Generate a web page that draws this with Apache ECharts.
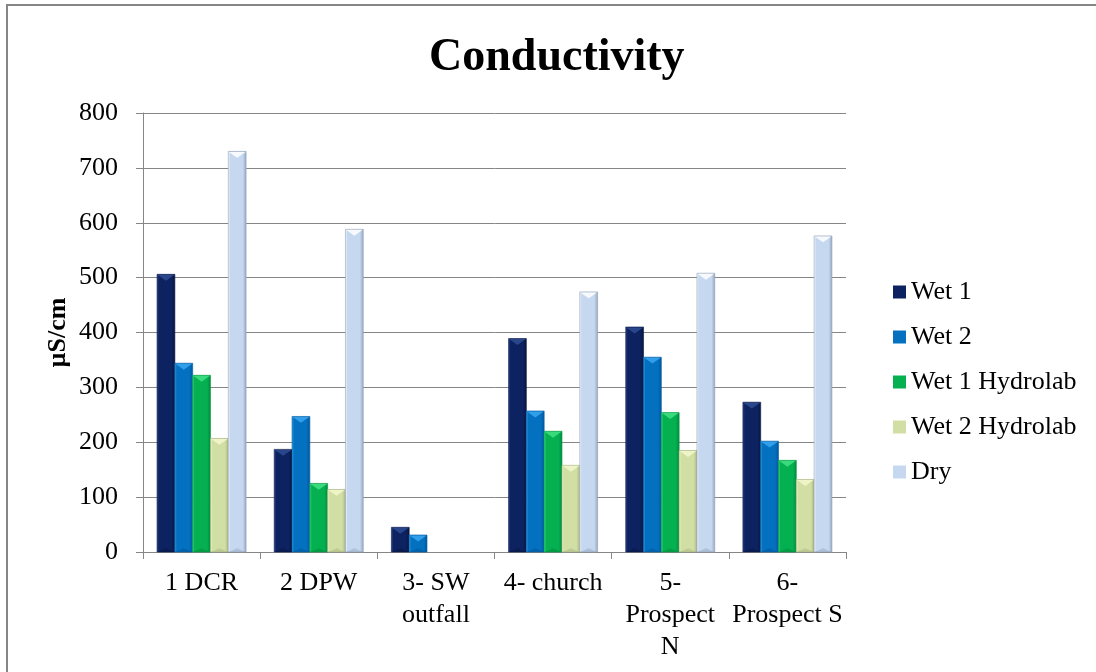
<!DOCTYPE html>
<html>
<head>
<meta charset="utf-8">
<script src="https://cdn.jsdelivr.net/npm/echarts@6/dist/echarts.min.js"></script>
<style>
  html, body { margin: 0; padding: 0; background: #fff; }
  #chart { width: 1096px; height: 672px; }
</style>
</head>
<body>
<div id="chart"></div>
<script>
// Site names along the x axis
const categories = ['1 DCR', '2 DPW', '3- SW\noutfall', '4- church', '5-\nProspect\nN', '6-\nProspect S'];
// Conductivity readings (µS/cm) per sampling event
const wet1 = [506, 187, 45, 389, 410, 273];
const wet2 = [344, 247, 31, 257, 355, 202];
const wet1Hydrolab = [322, 125, null, 220, 254, 167];
const wet2Hydrolab = [207, 114, null, 158, 185, 132];
const dry = [730, 588, null, 474, 508, 576];
const yTicks = { min: 0, max: 800, interval: 100 };

const seriesList = [
  { name: 'Wet 1', values: wet1, body: '#0d2260', light: '#2f4c92', dark: '#06153f', edge: '#0a1a4a' },
  { name: 'Wet 2', values: wet2, body: '#0370c0', light: '#3aa6f0', dark: '#02569a', edge: '#035ea4' },
  { name: 'Wet 1 Hydrolab', values: wet1Hydrolab, body: '#04b050', light: '#42e283', dark: '#018a3c', edge: '#03973f' },
  { name: 'Wet 2 Hydrolab', values: wet2Hydrolab, body: '#d2dfa4', light: '#f4f8cd', dark: '#a8b582', edge: '#a3ae80' },
  { name: 'Dry', values: dry, body: '#c5d8f0', light: '#ffffff', dark: '#95a7c0', edge: '#8e9db3' }
];

const N = seriesList.length;
const GROUP = 0.76; // share of each category band covered by its bars

function bevelBar(si, pal) {
  return function (params, api) {
    const v = api.value(1);
    if (v == null || isNaN(v)) return null;
    const cat = api.value(0);
    const base = api.coord([cat, 0]);
    const top = api.coord([cat, v]);
    const band = api.size([1, 0])[0];
    const bw = band * GROUP / N;
    const x0 = base[0] - band * GROUP / 2 + si * bw;
    const h = base[1] - top[1];
    const b = Math.min(bw * 0.36, h / 2);
    const grad = new echarts.graphic.LinearGradient(0, 0, 1, 0, [
      { offset: 0, color: pal.light },
      { offset: 0.12, color: pal.body },
      { offset: 0.8, color: pal.body },
      { offset: 1, color: pal.dark }
    ]);
    return {
      type: 'group',
      children: [
        { type: 'rect', shape: { x: x0, y: top[1], width: bw, height: h },
          style: { fill: grad, stroke: pal.edge, lineWidth: 0.6 } },
        { type: 'polygon', shape: { points: [[x0 + 0.5, top[1] + 0.5], [x0 + bw - 0.5, top[1] + 0.5], [x0 + bw / 2, top[1] + b]] },
          style: { fill: pal.light, opacity: 0.85 } },
        { type: 'polygon', shape: { points: [[x0 + 0.5, base[1]], [x0 + bw - 0.5, base[1]], [x0 + bw / 2, base[1] - b * 0.6]] },
          style: { fill: pal.dark, opacity: 0.5 } }
      ]
    };
  };
}

const serif = '"Liberation Serif", "Times New Roman", serif';
const gray = '#868686';

const chart = echarts.init(document.getElementById('chart'), null, { renderer: 'canvas' });
chart.setOption({
  backgroundColor: '#ffffff',
  animation: false,
  title: {
    text: 'Conductivity',
    left: 424,
    top: 30,
    textStyle: { fontFamily: serif, fontSize: 46, fontWeight: 'bold', color: '#000' }
  },
  graphic: [{
    type: 'rect',
    shape: { x: 7, y: 5, width: 1100, height: 700 },
    style: { fill: null, stroke: gray, lineWidth: 2 },
    silent: true
  }],
  legend: {
    orient: 'vertical',
    left: 888,
    top: 274,
    icon: 'rect',
    itemWidth: 13,
    itemHeight: 13,
    itemGap: 19,
    textStyle: { fontFamily: serif, fontSize: 26, color: '#000', lineHeight: 26 },
    data: seriesList.map(s => s.name)
  },
  grid: { left: 143, right: 250, top: 113, bottom: 120, containLabel: false },
  xAxis: {
    type: 'category',
    data: categories,
    axisLine: { lineStyle: { color: gray, width: 1 } },
    axisTick: { show: true, length: 7, lineStyle: { color: gray } },
    axisLabel: { fontFamily: serif, fontSize: 26, color: '#000', lineHeight: 32, margin: 15, interval: 0 }
  },
  yAxis: {
    type: 'value',
    min: yTicks.min,
    max: yTicks.max,
    interval: yTicks.interval,
    name: 'µS/cm',
    nameLocation: 'middle',
    nameRotate: 90,
    nameGap: 72,
    nameMoveOverlap: false,
    nameTextStyle: { fontFamily: serif, fontSize: 26, fontWeight: 'bold', color: '#000' },
    axisLine: { show: true, lineStyle: { color: gray, width: 1 } },
    axisTick: { show: true, length: 7, lineStyle: { color: gray } },
    axisLabel: { fontFamily: serif, fontSize: 26, color: '#000', margin: 25 },
    splitLine: { lineStyle: { color: gray, width: 1 } }
  },
  series: seriesList.map((s, i) => ({
    type: 'custom',
    name: s.name,
    itemStyle: { color: s.body },
    encode: { x: 0, y: 1 },
    data: s.values.map((v, c) => [c, v == null ? '-' : v]),
    renderItem: bevelBar(i, s)
  }))
});
</script>
</body>
</html>
